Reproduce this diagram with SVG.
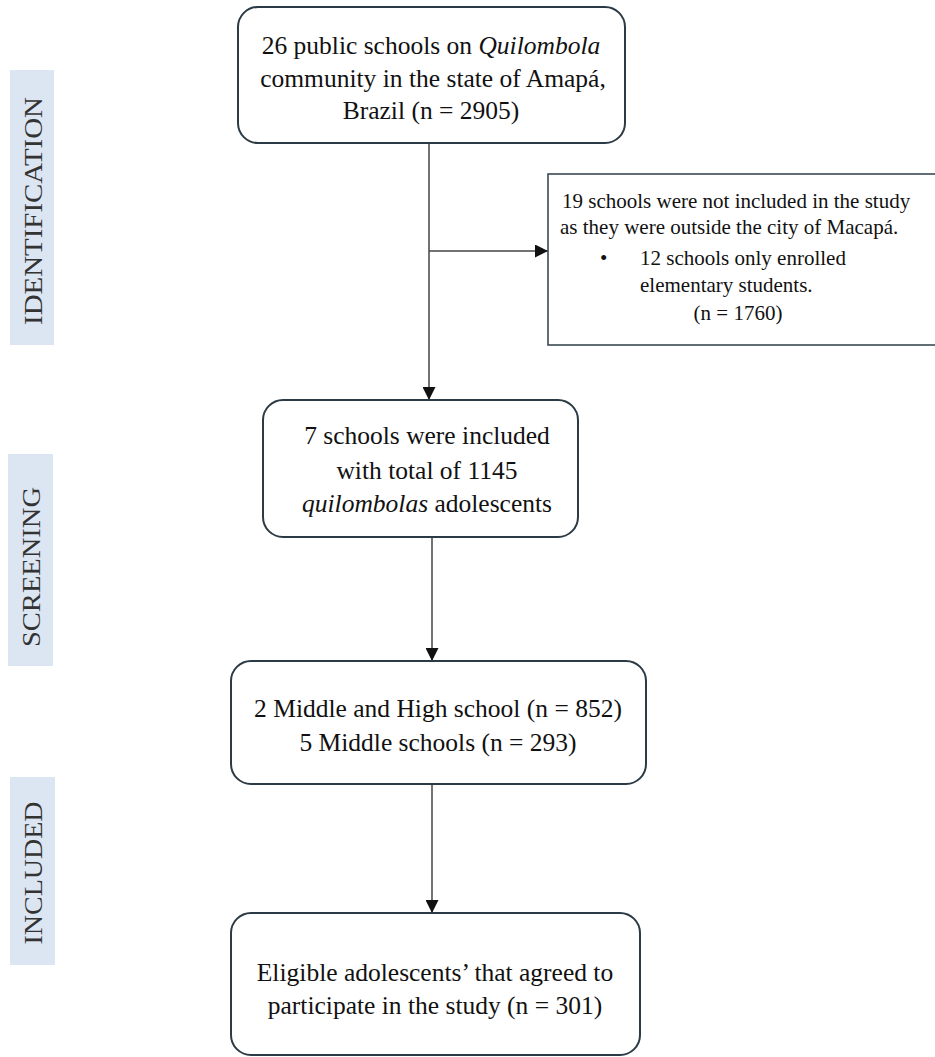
<svg xmlns="http://www.w3.org/2000/svg" width="935" height="1057" viewBox="0 0 935 1057">
<defs>
<style>
.box{fill:#fff;stroke:#2b3a44;stroke-width:2}
.ex{fill:#fff;stroke:#3a4a54;stroke-width:1.6}
.t{font-family:"Liberation Serif","Times New Roman",serif;font-size:25.5px;fill:#111;text-anchor:middle}
.s{font-family:"Liberation Serif","Times New Roman",serif;font-size:21px;fill:#111}
.lab{fill:#dce6f2}
.lt{font-family:"Liberation Serif","Times New Roman",serif;font-size:26px;fill:#333;text-anchor:middle}
.ln{stroke:#444;stroke-width:1.5;fill:none}
</style>
<marker id="arr" markerWidth="13" markerHeight="13" refX="13" refY="6.5" orient="auto" markerUnits="userSpaceOnUse">
<path d="M0,0 L13,6.5 L0,13 Z" fill="#111"/>
</marker>
</defs>
<rect width="935" height="1057" fill="#fff"/>

<g id="label-identification">
<rect class="lab" x="10" y="70" width="44" height="275"/>
<text class="lt" transform="translate(42,211) rotate(-90)" textLength="228" lengthAdjust="spacingAndGlyphs">IDENTIFICATION</text>
</g>
<g id="label-screening">
<rect class="lab" x="8" y="454" width="45" height="212"/>
<text class="lt" transform="translate(40,567) rotate(-90)" textLength="160" lengthAdjust="spacingAndGlyphs">SCREENING</text>
</g>
<g id="label-included">
<rect class="lab" x="10" y="777" width="45" height="188"/>
<text class="lt" transform="translate(42,873) rotate(-90)" textLength="143" lengthAdjust="spacingAndGlyphs">INCLUDED</text>
</g>

<g id="connectors">
<line class="ln" x1="429" y1="139" x2="429" y2="400" marker-end="url(#arr)"/>
<line class="ln" x1="429" y1="251" x2="548" y2="251" marker-end="url(#arr)"/>
<line class="ln" x1="432" y1="528" x2="432" y2="661" marker-end="url(#arr)"/>
<line class="ln" x1="432" y1="780" x2="432" y2="913" marker-end="url(#arr)"/>
</g>

<g id="node-schools">
<rect class="box" x="238" y="7" width="387" height="136" rx="20"/>
<text class="t" x="431" y="54">26 public schools on <tspan font-style="italic">Quilombola</tspan></text>
<text class="t" x="433" y="87">community in the state of Amapá,</text>
<text class="t" x="431" y="119">Brazil (n = 2905)</text>
</g>

<g id="node-excluded">
<rect class="ex" x="548" y="174" width="392" height="171"/>
<text class="s" x="562" y="208">19 schools were not included in the study</text>
<text class="s" x="560" y="234">as they were outside the city of Macapá.</text>
<text class="s" x="600" y="265" font-size="24px">•</text>
<text class="s" x="640" y="265">12 schools only enrolled</text>
<text class="s" x="640" y="292">elementary students.</text>
<text class="s" x="738" y="320" text-anchor="middle">(n = 1760)</text>
</g>

<g id="node-included-schools">
<rect class="box" x="263" y="400" width="315" height="137" rx="20"/>
<text class="t" x="427" y="444">7 schools were included</text>
<text class="t" x="427" y="479">with total of 1145</text>
<text class="t" x="427" y="512"><tspan font-style="italic">quilombolas</tspan> adolescents</text>
</g>

<g id="node-school-types">
<rect class="box" x="231" y="661" width="415" height="123" rx="20"/>
<text class="t" x="438" y="717">2 Middle and High school (n = 852)</text>
<text class="t" x="438" y="751">5 Middle schools (n = 293)</text>
</g>

<g id="node-eligible">
<rect class="box" x="231" y="913" width="409" height="142" rx="20"/>
<text class="t" x="435" y="981">Eligible adolescents’ that agreed to</text>
<text class="t" x="435" y="1014">participate in the study (n = 301)</text>
</g>
</svg>
